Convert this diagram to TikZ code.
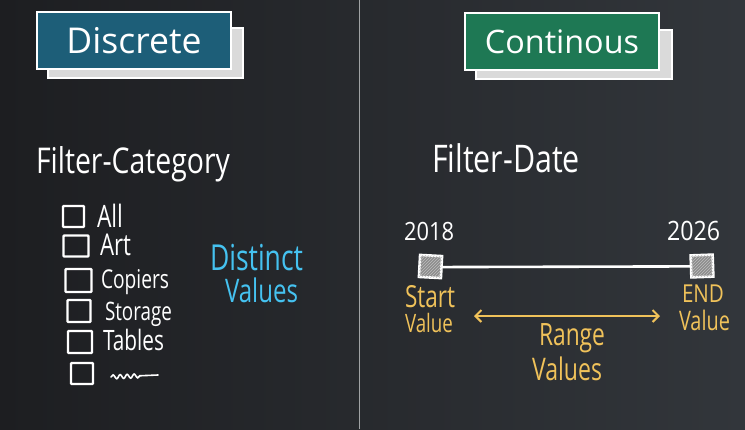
\documentclass[tikz,border=0pt]{standalone}
\usepackage{fontspec}
\setmainfont{Open Sans}
\usetikzlibrary{arrows.meta,patterns,decorations.pathmorphing}

\definecolor{boardL}{HTML}{1D1E21}
\definecolor{boardR}{HTML}{32363B}
\definecolor{tealcard}{HTML}{1D5E78}
\definecolor{greencard}{HTML}{1E7854}
\definecolor{cardback}{HTML}{DADADA}
\definecolor{chalkcyan}{HTML}{45C2F0}
\definecolor{chalkyellow}{HTML}{F0C25A}
\definecolor{divider}{HTML}{A0A2A4}

% chalk lettering: fit to a width, then stretch vertically
\newcommand{\chalk}[3][1.35]{\scalebox{1}[#1]{\resizebox{#2pt}{!}{#3}}}

\begin{document}
\begin{tikzpicture}[x=1pt,y=-1pt,
  every node/.style={inner sep=0pt,outer sep=0pt},
  backcard/.style={draw=white,line width=1.4pt,fill=cardback},
  frontcard/.style={draw=white,line width=1.6pt,text=white},
  label/.style={text=white,anchor=base west},
  cyannote/.style={text=chalkcyan,anchor=base west},
  yellownote/.style={text=chalkyellow,anchor=base west},
  cbox/.style={draw=white,line width=2.4pt,rounded corners=0.8pt},
  handle/.style={draw=white,line width=2.6pt,fill=black!45,
    minimum width=22pt,minimum height=22pt},
  hatch/.style={pattern=north east lines,pattern color=white!75!black},
  track/.style={draw=white,line width=2.6pt},
  chalkline/.style={draw=white,line width=1.8pt,line cap=round},
  yarrow/.style={draw=chalkyellow,line width=2pt,
    {Straight Barb[length=6pt,width=12pt,line width=2pt]}-{Straight Barb[length=6pt,width=12pt,line width=2pt]}},
  split/.style={draw=divider,line width=1.5pt}]

\useasboundingbox (0,0) rectangle (745,429);
\shade[left color=boardL,right color=boardR] (0,0) rectangle (745,429);

% vertical divider
\coordinate (divT) at (359.5,0);
\coordinate (divB) at (359.5,429);
\draw[split] (divT) -- (divB);

% ---------- left panel ----------
\node[backcard,minimum width=195pt,minimum height=50pt] (dback) at (145.5,53) {};
\node[frontcard,fill=tealcard,minimum width=194pt,minimum height=57pt] (dcard) at (134,40.5)
  {\chalk[1.0]{135}{Discrete}};

\node[label] (fcat) at (36,173) {\chalk[1.25]{194}{Filter-Category}};

\node[cbox,minimum width=21pt,minimum height=21pt] (b1) at (73.5,216.5) {};
\node[cbox,minimum width=25pt,minimum height=21pt] (b2) at (76,246) {};
\node[cbox,minimum width=26pt,minimum height=23pt] (b3) at (78.5,280.5) {};
\node[cbox,minimum width=23pt,minimum height=22pt] (b4) at (79,311) {};
\node[cbox,minimum width=24pt,minimum height=22pt] (b5) at (80,342) {};
\node[cbox,minimum width=22pt,minimum height=21pt] (b6) at (82,373.5) {};

\node[label] (iall) at (97,227) {\chalk{26}{All}};
\node[label] (iart) at (100,255) {\chalk{31}{Art}};
\node[label] (icop) at (101,288) {\chalk{68}{Copiers}};
\node[label] (isto) at (105,320) {\chalk{67}{Storage}};
\node[label] (itab) at (103,350) {\chalk{61}{Tables}};

% placeholder scribble for further items
\coordinate (sqA) at (111,377);
\coordinate (sqB) at (158,375);
\draw[chalkline,line width=1.6pt,decorate,
  decoration={snake,amplitude=2pt,segment length=7pt,post length=16pt}] (sqA) -- (sqB);

\node[cyannote] (dist) at (210,270) {\chalk{93}{Distinct}};
\node[cyannote] (dval) at (225,302) {\chalk{73}{Values}};

% ---------- right panel ----------
\node[backcard,minimum width=196pt,minimum height=49pt] (cback) at (574,54.5) {};
\node[frontcard,fill=greencard,minimum width=194pt,minimum height=57pt] (ccard) at (562,41.5)
  {\chalk[1.0]{154}{Continous}};

\node[label] (fdate) at (432,172) {\chalk[1.25]{148}{Filter-Date}};

\node[label] (y1) at (404,240) {\chalk[1.15]{50}{2018}};
\node[label] (y2) at (667,240) {\chalk[1.15]{53}{2026}};

\node[handle,rotate=-3] (h1) at (430.5,266.5) {};
\node[handle,rotate=2] (h2) at (702,266) {};
\fill[hatch] (h1.south west) -- (h1.south east) -- (h1.north east) -- (h1.north west) -- cycle;
\fill[hatch] (h2.south west) -- (h2.south east) -- (h2.north east) -- (h2.north west) -- cycle;
\draw[track] (h1.east) -- (h2.west);

\node[yellownote] (st1) at (405,307) {\chalk{50}{Start}};
\node[yellownote] (st2) at (405,332) {\chalk{48}{Value}};
\node[yellownote] (en1) at (682,302) {\chalk[1.2]{42}{END}};
\node[yellownote] (en2) at (679,330) {\chalk{51}{Value}};

\coordinate (arrL) at (474,316);
\coordinate (arrR) at (660,316);
\draw[yarrow] (arrL) -- (arrR);

\node[yellownote] (rg1) at (539,345) {\chalk{66}{Range}};
\node[yellownote] (rg2) at (532,380) {\chalk{70}{Values}};

\end{tikzpicture}
\end{document}
